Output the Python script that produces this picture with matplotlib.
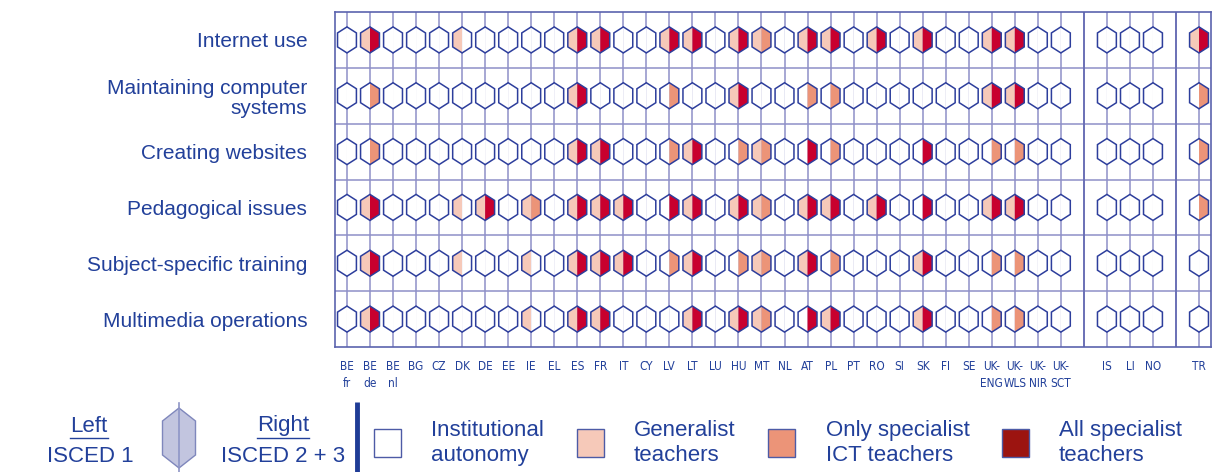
import matplotlib
matplotlib.use("Agg")
import matplotlib.pyplot as plt
from matplotlib.patches import Polygon, Rectangle

plt.rcParams['font.family'] = ['Liberation Sans', 'DejaVu Sans']

countries = ["BE\nfr", "BE\nde", "BE\nnl", "BG", "CZ", "DK", "DE", "EE", "IE", "EL",
             "ES", "FR", "IT", "CY", "LV", "LT", "LU", "HU", "MT", "NL", "AT", "PL",
             "PT", "RO", "SI", "SK", "FI", "SE", "UK-\nENG", "UK-\nWLS", "UK-\nNIR",
             "UK-\nSCT", "IS", "LI", "NO", "TR"]
# column slot of each country, the empty slots hold the group separators
slots = list(range(32)) + [33, 34, 35, 37]
separators = [32, 36]

areas = ["Internet use", "Maintaining computer\nsystems", "Creating websites",
         "Pedagogical issues", "Subject-specific training", "Multimedia operations"]

# 0 = institutional autonomy, 1 = generalist teachers,
# 2 = only specialist ICT teachers, 3 = all specialist teachers
isced1 = [
    [0,1,0,0,0,1,0,0,0,0, 1,1,0,0,1,1,0,1,1,0,1,1,0,1,0,1,0,0, 1,1,0,0, 0,0,0, 1],
    [0,0,0,0,0,0,0,0,0,0, 1,0,0,0,0,0,0,1,0,0,0,0,0,0,0,0,0,0, 1,1,0,0, 0,0,0, 0],
    [0,0,0,0,0,0,0,0,0,0, 1,1,0,0,0,1,0,0,1,0,0,0,0,0,0,0,0,0, 0,0,0,0, 0,0,0, 0],
    [0,1,0,0,0,1,1,0,1,0, 1,1,1,0,0,1,0,1,1,0,1,1,0,1,0,0,0,0, 1,1,0,0, 0,0,0, 0],
    [0,1,0,0,0,1,0,0,1,0, 1,1,1,0,0,1,0,0,1,0,1,0,0,0,0,1,0,0, 0,0,0,0, 0,0,0, 0],
    [0,1,0,0,0,0,0,0,1,0, 1,1,0,0,0,1,0,1,1,0,0,1,0,0,0,1,0,0, 0,0,0,0, 0,0,0, 0],
]
isced23 = [
    [0,3,0,0,0,0,0,0,0,0, 3,3,0,0,3,3,0,3,2,0,3,3,0,3,0,3,0,0, 3,3,0,0, 0,0,0, 3],
    [0,2,0,0,0,0,0,0,0,0, 3,0,0,0,2,0,0,3,0,0,2,2,0,0,0,0,0,0, 3,3,0,0, 0,0,0, 2],
    [0,2,0,0,0,0,0,0,0,0, 3,3,0,0,2,3,0,2,2,0,3,2,0,0,0,3,0,0, 2,2,0,0, 0,0,0, 2],
    [0,3,0,0,0,0,3,0,2,0, 3,3,3,0,3,3,0,3,2,0,3,3,0,3,0,3,0,0, 3,3,0,0, 0,0,0, 2],
    [0,3,0,0,0,0,0,0,0,0, 3,3,3,0,2,3,0,2,2,0,3,2,0,0,0,3,0,0, 2,2,0,0, 0,0,0, 0],
    [0,3,0,0,0,0,0,0,0,0, 3,3,0,0,0,3,0,3,2,0,3,3,0,0,0,3,0,0, 2,2,0,0, 0,0,0, 0],
]

fills = ['white', '#F6C9B9', '#EC9478', '#C8002E']
legend_fills = ['white', '#F6C9B9', '#EC9478', '#9C1410']
legend_text = ["Institutional\nautonomy", "Generalist\nteachers",
               "Only specialist\nICT teachers", "All specialist\nteachers"]

blue = '#22409A'
grid_col = '#8E90C8'
hex_edge = '#2D3E9C'

fig = plt.figure(figsize=(12.14, 4.72), dpi=100)
ax = fig.add_axes([335 / 1214, 1 - 347 / 472, 876 / 1214, 335 / 472])
ax.set_xlim(-0.52, 37.52)
ax.set_ylim(len(areas) - 0.5, -0.5)

# grid
for x in slots:
    ax.axvline(x, color=grid_col, lw=1.1, zorder=1)
for y in range(1, len(areas)):
    ax.axhline(y - 0.5, color=grid_col, lw=1.1, zorder=1)
for x in separators:
    ax.axvline(x, color='#6A70B6', lw=1.4, zorder=1)
for s in ax.spines.values():
    s.set_color('#5B63AE')
    s.set_linewidth(1.2)

# hexagon half sizes in data units
w, h, s = 0.41, 0.233, 0.125
for r in range(len(areas)):
    for c, x in enumerate(slots):
        left = [(x, r - h), (x - w, r - s), (x - w, r + s), (x, r + h)]
        right = [(x, r - h), (x + w, r - s), (x + w, r + s), (x, r + h)]
        ax.add_patch(Polygon(left, closed=True, fc=fills[isced1[r][c]], ec='none', zorder=2))
        ax.add_patch(Polygon(right, closed=True, fc=fills[isced23[r][c]], ec='none', zorder=2))
        outline = [(x, r - h), (x + w, r - s), (x + w, r + s), (x, r + h),
                   (x - w, r + s), (x - w, r - s)]
        ax.add_patch(Polygon(outline, closed=True, fc='none', ec=hex_edge, lw=1.1, zorder=3))

ax.set_xticks(slots)
ax.set_xticklabels(countries, fontsize=8.5, color=blue, linespacing=1.45,
                   family='DejaVu Sans', fontstretch='condensed')
ax.set_yticks(range(len(areas)))
ax.set_yticklabels(areas, fontsize=15, color=blue, linespacing=1.05)
ax.tick_params(axis='x', length=0, pad=9)
ax.tick_params(axis='y', length=0, pad=20)

# legend drawn in pixel coordinates
lax = fig.add_axes([0, 0, 1, 1])
lax.set_xlim(0, 1214)
lax.set_ylim(472, 0)
lax.axis('off')

t_left = lax.text(89, 426, "Left", fontsize=16, color=blue, ha='center', va='center')
lax.text(90, 457, "ISCED 1", fontsize=16, color=blue, ha='center', va='center')
t_right = lax.text(283, 426, "Right", fontsize=16, color=blue, ha='center', va='center')
lax.text(283, 457, "ISCED 2 + 3", fontsize=16, color=blue, ha='center', va='center')

fig.canvas.draw()
inv = lax.transData.inverted()
for t in (t_left, t_right):
    bb = t.get_window_extent()
    (x0, y0), (x1, y1) = inv.transform([(bb.x0, bb.y0), (bb.x1, bb.y1)])
    lax.plot([x0, x1], [y0 + 1, y0 + 1], color=blue, lw=1.0)

cx, cy = 179, 438
icon = [(cx, cy - 30), (cx + 16.5, cy - 17), (cx + 16.5, cy + 17), (cx, cy + 30),
        (cx - 16.5, cy + 17), (cx - 16.5, cy - 17)]
lax.add_patch(Polygon(icon, closed=True, fc='#C2C5DF', ec='#7F87BC', lw=1.0))
lax.plot([cx, cx], [403, 472], color='#8E95C6', lw=1.2)
lax.plot([357, 357], [402, 472], color='#1F3C96', lw=3.5, solid_capstyle='butt')

sq_x = [374, 577, 768, 1002]
txt_x = [431, 634, 826, 1059]
for fcol, label, sx, tx in zip(legend_fills, legend_text, sq_x, txt_x):
    lax.add_patch(Rectangle((sx, 429), 27, 28, fc=fcol, ec='#4D5BA6', lw=1.0))
    lax.text(tx, 443, label, fontsize=16, color=blue, ha='left', va='center',
             linespacing=1.2)

fig.savefig("out.png", dpi=100)
